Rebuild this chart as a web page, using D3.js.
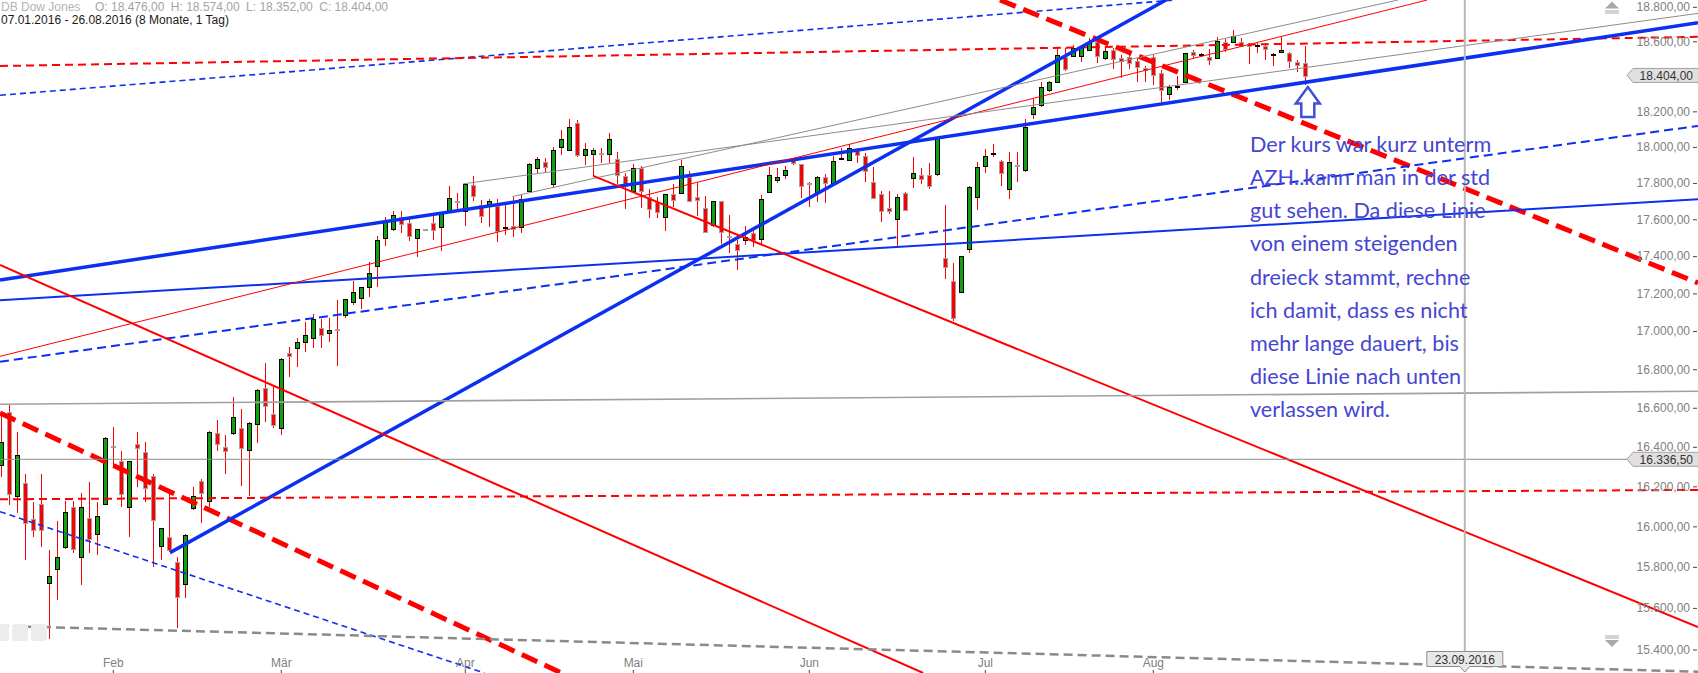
<!DOCTYPE html>
<html><head><meta charset="utf-8">
<script src="https://cdn.jsdelivr.net/npm/d3@7"></script>
<style>
html,body{margin:0;padding:0;background:#fff;overflow:hidden;}
svg{display:block;}
</style></head><body>
<svg id="chart"></svg>
<script>
// ---------------- DATA ----------------
const firstDay = "2016-01-12";           // first (partly visible) candle, daily weekday candles
const open  = [16308,16580,16148,16218,16035,16110,15720,15788,15896,16095,15847,16040,15965,16110,16402,16327,16098,16413,16372,16254,15903,15946,15825,15715,16095,16227,16128,16469,16400,16469,16498,16382,16515,16701,16567,16495,16887,16910,16941,16962,17015,16988,17012,17085,17156,17174,17236,17347,17497,17546,17614,17578,17497,17547,17578,17557,17642,17703,17646,17789,17680,17679,17675,17558,17565,17557,17752,17880,17915,17793,17998,17983,18136,17954,17959,17965,17959,17932,17841,17757,17885,17721,17693,17611,17738,17743,17835,17725,17660,17569,17699,17508,17464,17488,17524,17491,17747,17821,17843,17928,17904,17798,17747,17832,17798,17932,17924,17983,17952,17804,17738,17660,17600,17743,17824,17843,17843,17848,17389,17268,17209,17437,17721,17896,17966,17924,17765,17898,17872,18184,18236,18318,18369,18508,18516,18516,18550,18598,18503,18550,18506,18512,18489,18447,18512,18417,18299,18340,18365,18537,18523,18512,18508,18598,18595,18598,18583,18578,18573,18527,18537,18531,18483,18476];
const high  = [16572,16615,16477,16261,16120,16261,15883,16027,16127,16128,16165,16222,16120,16450,16500,16379,16330,16476,16426,16262,15992,16187,15847,15960,16195,16235,16480,16537,16460,16654,16592,16525,16695,16831,16709,16857,16915,16962,17050,17091,17063,17068,17165,17170,17267,17235,17367,17511,17611,17646,17646,17602,17546,17547,17618,17630,17783,17743,17795,17839,17706,17712,17714,17679,17725,17734,17913,17946,17937,18002,18096,18157,18152,18021,17993,17993,18080,17974,17857,17905,17894,17765,17725,17740,17795,17928,17868,17798,17730,17699,17700,17623,17488,17564,17538,17734,17887,17882,17894,17937,17905,17807,17839,17850,17951,17993,18015,17993,17965,17887,17756,17756,17738,17749,17942,17882,17909,18054,17679,17361,17401,17783,17915,17987,18015,17925,17974,17974,18157,18270,18365,18373,18560,18560,18579,18579,18618,18618,18560,18560,18522,18531,18506,18458,18522,18436,18350,18401,18535,18550,18531,18554,18627,18612,18666,18618,18589,18589,18589,18531,18627,18541,18493,18574];
const low   = [16249,16107,16068,15834,15949,15896,15450,15638,15890,15867,15712,15867,15858,16105,16296,16098,15949,16198,16123,15801,15834,15875,15503,15647,16081,16018,16098,16380,16262,16460,16202,16151,16420,16529,16495,16460,16761,16813,16892,16913,16913,16944,16817,17071,17138,17116,17182,17236,17455,17536,17527,17482,17397,17546,17487,17430,17633,17651,17565,17702,17578,17558,17478,17516,17502,17527,17752,17850,17854,17771,17956,17978,17946,17900,17839,17909,17913,17795,17655,17752,17660,17606,17606,17538,17669,17743,17701,17618,17527,17560,17464,17416,17326,17461,17451,17461,17743,17798,17821,17900,17716,17666,17697,17688,17798,17928,17924,17909,17807,17716,17587,17628,17451,17651,17774,17795,17765,17841,17275,17055,17200,17419,17651,17854,17946,17783,17712,17807,17863,18156,18227,18312,18369,18432,18512,18483,18550,18474,18493,18440,18388,18440,18369,18369,18350,18246,18265,18322,18360,18503,18512,18464,18503,18541,18589,18569,18468,18531,18493,18458,18531,18446,18426,18352];
const close = [16426,16162,16357,16018,15982,15982,15754,15847,16070,15887,16095,15937,16053,16444,16400,16160,16327,16392,16190,16035,15990,15880,15655,15956,16153,16165,16477,16413,16379,16551,16397,16520,16692,16606,16512,16852,16871,16941,16978,17063,16978,17006,17010,17169,17209,17233,17311,17486,17584,17622,17575,17509,17546,17546,17538,17629,17716,17700,17793,17728,17622,17699,17538,17560,17550,17710,17904,17932,17885,17982,18043,18111,17959,17987,17982,17962,18043,17845,17793,17885,17756,17655,17638,17738,17706,17891,17701,17706,17530,17699,17531,17505,17434,17506,17488,17710,17843,17835,17870,17913,17782,17795,17832,17798,17924,17940,17993,17956,17867,17716,17646,17646,17721,17651,17854,17821,17783,18049,17340,17073,17401,17776,17887,17950,17968,17859,17915,17895,18111,18223,18340,18365,18522,18441,18560,18566,18598,18518,18546,18497,18489,18480,18455,18436,18407,18322,18340,18342,18531,18522,18525,18493,18604,18560,18631,18573,18573,18580,18554,18529,18550,18487,18464,18404];

const yTicks = [15400,15600,15800,16000,16200,16400,16600,16800,17000,17200,17400,17600,17800,18000,18200,18400,18600,18800];
const monthLabels = ["Feb","Mär","Apr","Mai","Jun","Jul","Aug"];
const monthNumbers = [1,2,3,4,5,6,7];
const markerDate = "2016-09-23";
const refLevel = 16336.5;

// trend lines drawn on the chart: [date index, price] start and end
const trendStart = [[-0.1,18291],[-0.1,18458],[124.9,18840],[-0.1,16573],[-0.1,17272],[21.15,15870],[-0.1,17163],[-0.1,16839],[-0.1,16867],[57.8,17795],[63.94,17725],[74.06,17839],[-0.1,17353],[-0.1,16618],[-0.1,16135],[-0.1,16073],[-0.1,15513]];
const trendEnd   = [[146.8,18840],[212.15,18626],[212.15,17256],[70.1,15288],[212.15,18707],[145.65,18840],[212.15,17710],[212.15,18118],[178.3,18840],[212.15,18762],[174.65,18840],[212.15,15508],[115.3,15288],[212.15,16685],[212.15,16182],[60.45,15288],[212.15,15294]];
const trendKind  = ["blueDashThin","redDash","redThickDash","redThickDash","blueThick","blueThick","blueThin","blueDash","redThin","grayThin","grayThin","redMed","redMed","grayMed","redDash","blueDashThin","grayDash"];

const noteLines = ["Der kurs war kurz unterm","AZH..kann man in der std","gut sehen. Da diese Linie","von einem steigenden","dreieck stammt, rechne","ich damit, dass es nicht","mehr lange dauert, bis","diese Linie nach unten","verlassen wird."];
const titleText = "DB Dow Jones";
const rangeText = "07.01.2016 - 26.08.2016 (8 Monate, 1 Tag)";

// ---------------- SETUP ----------------
const W = 1698, H = 673;
const viewIdx = [-0.1, 212.15];
const viewPrice = [15288, 18840];
const de = d3.formatLocale({decimal: ",", thousands: ".", grouping: [3], currency: ["", "€"]});
const fmt = de.format(",.2f");
const parse = d3.timeParse("%Y-%m-%d");
const FONT = "'Liberation Sans', Arial, sans-serif";

const svg = d3.select("#chart").attr("width", W).attr("height", H);
const x = d3.scaleLinear().domain(viewIdx).range([0, W]);
const y = d3.scaleLog().domain(viewPrice).range([H, 0]);

// weekday calendar
const dates = [];
for (let d = parse(firstDay); dates.length < 230; d = d3.timeDay.offset(d, 1)) {
  const wd = d.getDay();
  if (wd !== 0 && wd !== 6) dates.push(d);
}
const fmtDay = d3.timeFormat("%Y-%m-%d");
const markerIdx = dates.findIndex(d => fmtDay(d) === markerDate);
const monthIdx = monthNumbers.map(m => dates.findIndex(d => d.getMonth() === m));

const candles = open.map((o, i) => ({i, o, h: high[i], l: low[i], c: close[i]}));

// ---------------- CANDLES ----------------
const gC = svg.append("g").attr("shape-rendering", "crispEdges");
gC.selectAll("line").data(candles).join("line")
  .attr("x1", d => Math.round(x(d.i)) + 0.5).attr("x2", d => Math.round(x(d.i)) + 0.5)
  .attr("y1", d => y(d.h)).attr("y2", d => y(d.l))
  .attr("stroke", "#ff0000").attr("stroke-width", 1);
gC.selectAll("rect").data(candles).join("rect")
  .attr("x", d => Math.round(x(d.i)) - 1.5)
  .attr("width", 4)
  .attr("y", d => Math.round(Math.min(y(d.o), y(d.c))) + 0.5)
  .attr("height", d => Math.max(1, Math.round(Math.abs(y(d.o) - y(d.c)))))
  .attr("fill", d => d.c >= d.o ? "#10a010" : "#ff0000")
  .attr("stroke", d => d.c >= d.o ? "#000" : "#a0a0a0")
  .attr("stroke-width", 1);

// ---------------- TREND LINES ----------------
const lineStyles = {
  blueThick:    {stroke: "#0b30f0", width: 3.5, dash: null},
  blueThin:     {stroke: "#0b30f0", width: 2,   dash: null},
  blueDash:     {stroke: "#0b30f0", width: 2,   dash: "9,5"},
  blueDashThin: {stroke: "#0b30f0", width: 1.6, dash: "6,4"},
  redThickDash: {stroke: "#ff0000", width: 5,   dash: "17,8"},
  redDash:      {stroke: "#ff0000", width: 2,   dash: "8,5"},
  redMed:       {stroke: "#ff0000", width: 2,   dash: null},
  redThin:      {stroke: "#ff0000", width: 1,   dash: null},
  grayThin:     {stroke: "#8c8c8c", width: 1,   dash: null},
  grayMed:      {stroke: "#a0a0a0", width: 1.6, dash: null},
  grayDash:     {stroke: "#8a8a8a", width: 2.5, dash: "9,5"}
};
const trends = trendStart.map((s, k) => ({s, e: trendEnd[k], st: lineStyles[trendKind[k]]}));
svg.append("g").selectAll("line").data(trends).join("line")
  .attr("x1", d => x(d.s[0])).attr("y1", d => y(d.s[1]))
  .attr("x2", d => x(d.e[0])).attr("y2", d => y(d.e[1]))
  .attr("stroke", d => d.st.stroke).attr("stroke-width", d => d.st.width)
  .attr("stroke-dasharray", d => d.st.dash);

// reference horizontal level
svg.append("line").attr("x1", 0).attr("x2", W)
  .attr("y1", y(refLevel)).attr("y2", y(refLevel))
  .attr("stroke", "#8c8c8c").attr("stroke-width", 1);

// vertical date marker
const mx = x(markerIdx);
svg.append("line").attr("x1", mx).attr("x2", mx).attr("y1", 0).attr("y2", 652)
  .attr("stroke", "#b8b8b8").attr("stroke-width", 2);

// ---------------- AXES ----------------
const gy = svg.append("g").attr("transform", `translate(${W - 1},0)`)
  .call(d3.axisLeft(y).tickValues(yTicks).tickFormat(fmt).tickSize(4).tickPadding(3));
gy.select(".domain").remove();
gy.selectAll("line").attr("stroke", "#444");
gy.selectAll("text").attr("fill", "#808080").style("font-family", FONT).style("font-size", "12px");

const gx = svg.append("g").attr("transform", `translate(0,${H})`)
  .call(d3.axisTop(x).tickValues(monthIdx).tickFormat((d, k) => monthLabels[k]).tickSize(3).tickPadding(3));
gx.select(".domain").remove();
gx.selectAll("line").attr("stroke", "#444");
gx.selectAll("text").attr("fill", "#808080").style("font-family", FONT).style("font-size", "12px");

// price tags
function priceTag(p) {
  const yc = y(p);
  const g = svg.append("g");
  g.append("path")
    .attr("d", `M${W - 71},${yc} L${W - 65},${yc - 7} L${W + 1},${yc - 7} L${W + 1},${yc + 7} L${W - 65},${yc + 7} Z`)
    .attr("fill", "#e0e0e0").attr("stroke", "#a0a0a0");
  g.append("text").attr("x", W - 5).attr("y", yc).attr("dy", "0.35em").attr("text-anchor", "end")
    .attr("fill", "#333").style("font-family", FONT).style("font-size", "12px").text(fmt(p));
}
priceTag(close[close.length - 1]);
priceTag(refLevel);

// date tag
const dg = svg.append("g");
dg.append("path")
  .attr("d", `M${mx - 38},651.5 L${mx + 38},651.5 L${mx + 38},666.5 L${mx + 5},666.5 L${mx},672 L${mx - 5},666.5 L${mx - 38},666.5 Z`)
  .attr("fill", "#e8e8e8").attr("stroke", "#8c8c8c");
dg.append("text").attr("x", mx).attr("y", 663.5).attr("text-anchor", "middle")
  .attr("fill", "#333").style("font-family", FONT).style("font-size", "12px")
  .text(d3.timeFormat("%d.%m.%Y")(dates[markerIdx]));

// scroll icons (right)
function scrollIcon(cx, yTop, up) {
  const g = svg.append("g").attr("fill", "#a8a8a8").attr("stroke", "#a8a8a8");
  if (up) {
    g.append("path").attr("d", `M${cx - 7},${yTop + 7} L${cx},${yTop} L${cx + 7},${yTop + 7} Z`).attr("stroke", "none");
    g.append("line").attr("x1", cx - 7).attr("x2", cx + 7).attr("y1", yTop + 9.5).attr("y2", yTop + 9.5).attr("stroke-width", 1);
    g.append("line").attr("x1", cx - 7).attr("x2", cx + 7).attr("y1", yTop + 11.5).attr("y2", yTop + 11.5).attr("stroke-width", 1);
  } else {
    g.append("line").attr("x1", cx - 7).attr("x2", cx + 7).attr("y1", yTop + 0.5).attr("y2", yTop + 0.5).attr("stroke-width", 1);
    g.append("line").attr("x1", cx - 7).attr("x2", cx + 7).attr("y1", yTop + 2.5).attr("y2", yTop + 2.5).attr("stroke-width", 1);
    g.append("path").attr("d", `M${cx - 7},${yTop + 4.5} L${cx + 7},${yTop + 4.5} L${cx},${yTop + 11.5} Z`).attr("stroke", "none");
  }
}
scrollIcon(1612, 1.5, true);
scrollIcon(1612, 635.5, false);

// faint buttons bottom-left
[[-4, 13], [12, 16], [31, 16]].forEach(([bx, bw]) => {
  svg.append("rect").attr("x", bx).attr("y", 624).attr("width", bw).attr("height", 17).attr("rx", 3)
    .attr("fill", "#ececec");
});

// ---------------- HEADER ----------------
const hdr = svg.append("g").style("font-family", FONT).style("font-size", "12px");
const last = open.length - 1;
const headerParts = [`O: ${fmt(open[last])}`, `H: ${fmt(high[last])}`, `L: ${fmt(low[last])}`, `C: ${fmt(close[last])}`];
hdr.append("text").attr("x", 1).attr("y", 11).attr("fill", "#b4b4b4").text(titleText);
// lay the O/H/L/C values out between x=95 and x=388
const partNodes = headerParts.map(t => hdr.append("text").attr("y", 11).attr("fill", "#a4a4a4").text(t));
const widths = partNodes.map(n => n.node().getComputedTextLength());
const gap = (388 - 95 - d3.sum(widths)) / (widths.length - 1);
let cursor = 95;
partNodes.forEach((n, k) => { n.attr("x", cursor); cursor += widths[k] + gap; });
hdr.append("text").attr("x", 1).attr("y", 24).attr("fill", "#1a1a1a").text(rangeText);

// ---------------- ANNOTATION ----------------
const lastX = x(last), lastLow = y(low[last]);
const ax = lastX + 3, ay = lastLow + 2.5;
svg.append("path")
  .attr("d", `M${ax},${ay} L${ax + 12},${ay + 16.5} L${ax + 6.5},${ay + 16.5} L${ax + 6.5},${ay + 30} L${ax - 6.5},${ay + 30} L${ax - 6.5},${ay + 16.5} L${ax - 12},${ay + 16.5} Z`)
  .attr("fill", "#fff").attr("stroke", "#3f4fd8").attr("stroke-width", 2.5).attr("stroke-linejoin", "miter");

svg.append("g").selectAll("text").data(noteLines).join("text")
  .attr("x", 1250).attr("y", (d, k) => 152.3 + k * 33.05)
  .attr("fill", "#4646d2").style("font-family", "Lato, 'Open Sans', sans-serif").style("font-size", "21.6px")
  .text(d => d);
</script>
</body></html>
